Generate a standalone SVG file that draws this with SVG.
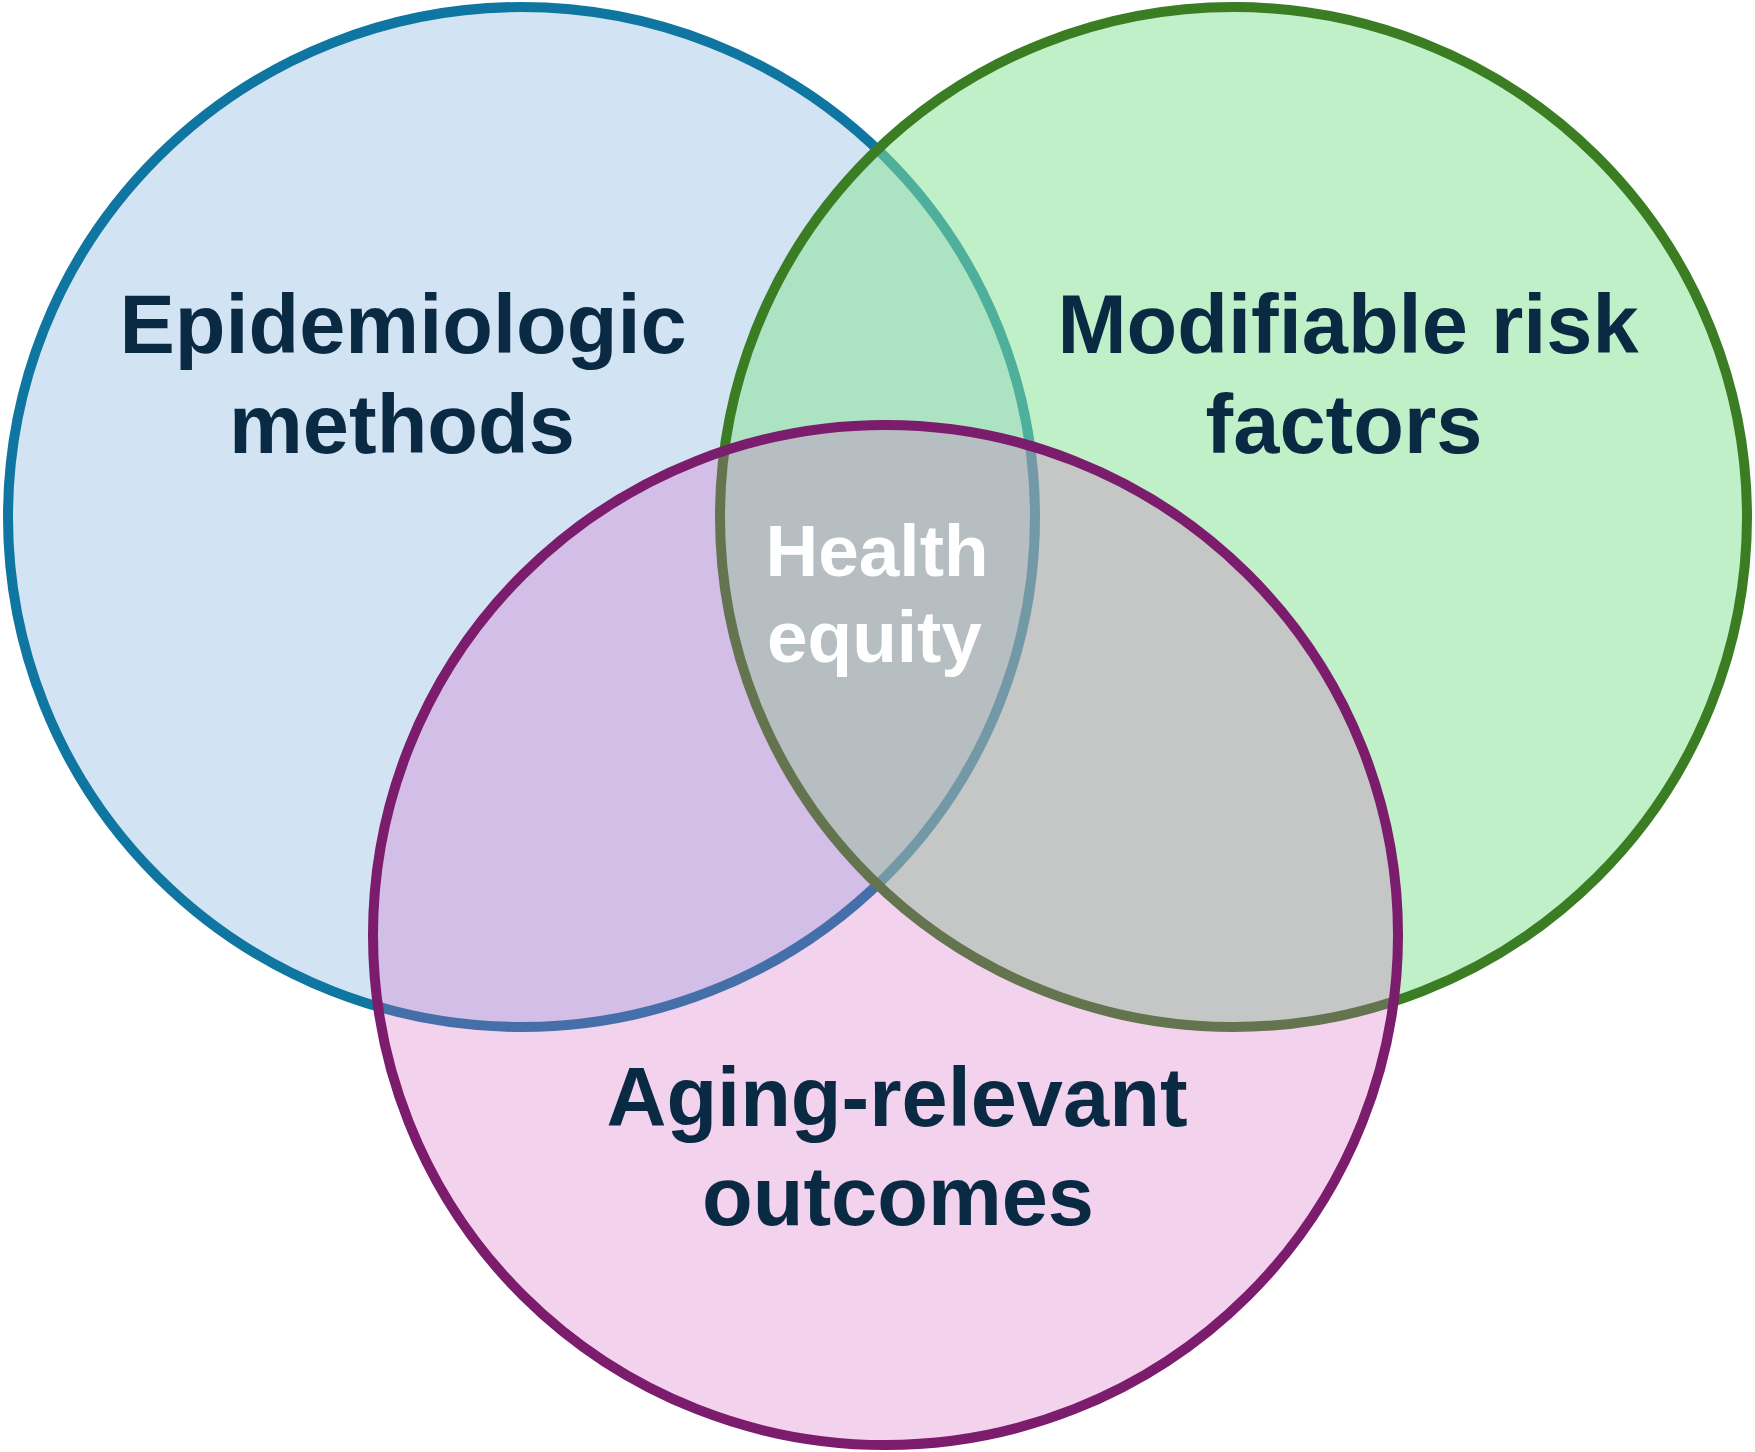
<svg xmlns="http://www.w3.org/2000/svg" width="1755" height="1452" viewBox="0 0 1755 1452">
  <style>
    .ring { stroke-width: 10; }
    .lbl { font-family: "Liberation Sans", Arial, sans-serif; font-weight: bold; font-size: 83px; fill: #0A2A43; text-anchor: middle; }
    .center { font-family: "Liberation Sans", Arial, sans-serif; font-weight: bold; font-size: 73px; fill: #FFFFFF; text-anchor: middle; }
  </style>
  <rect width="1755" height="1452" fill="#FFFFFF"/>
  <g id="node-epidemiologic">
    <ellipse class="ring" cx="521.5" cy="517" rx="513.5" ry="510" fill="#D2E3F4" stroke="#0E76A0"/>
    <text class="lbl" x="403" y="353">Epidemiologic</text>
    <text class="lbl" x="402" y="453">methods</text>
  </g>
  <g id="node-modifiable">
    <ellipse class="ring" cx="1233.5" cy="517" rx="513.5" ry="510" fill="#88E397" fill-opacity="0.53" stroke="#3A7D22"/>
    <text class="lbl" x="1348" y="353">Modifiable risk</text>
    <text class="lbl" x="1344" y="453">factors</text>
  </g>
  <g id="node-aging">
    <ellipse class="ring" cx="885.5" cy="935" rx="512.5" ry="510" fill="#D45EC2" fill-opacity="0.28" stroke="#7B1C6C"/>
    <text class="lbl" x="897" y="1126">Aging-relevant</text>
    <text class="lbl" x="898" y="1225">outcomes</text>
  </g>
  <g id="node-health-equity">
    <text class="center" x="877" y="576">Health</text>
    <text class="center" x="874.5" y="662">equity</text>
  </g>
  <g id="connectors"></g>
</svg>
